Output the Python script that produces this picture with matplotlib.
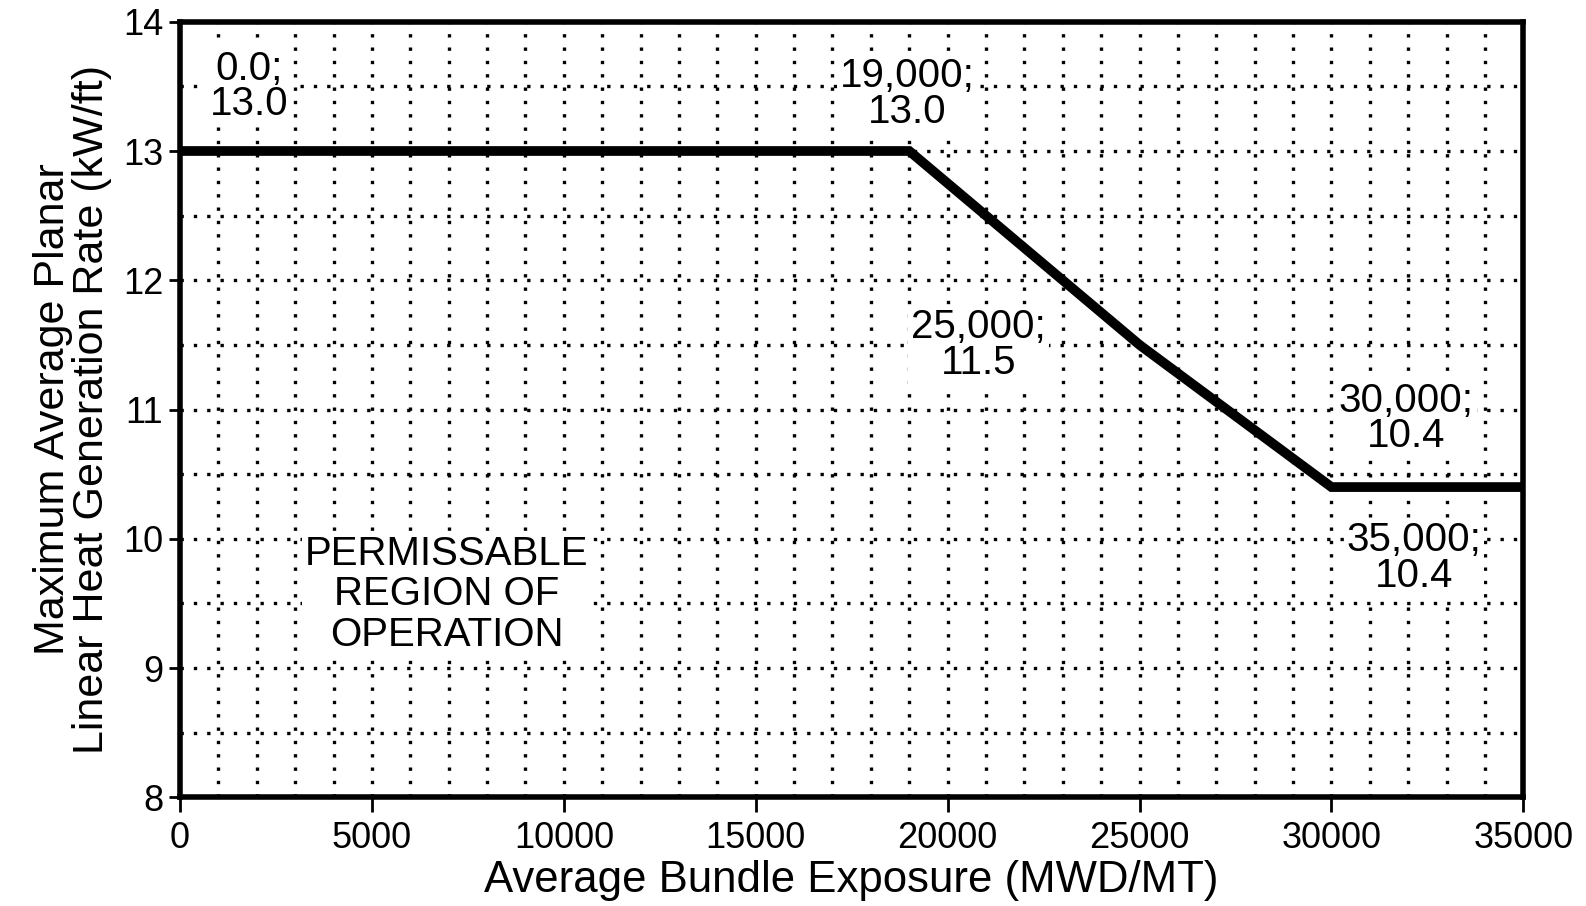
import matplotlib.pyplot as plt

plt.rcParams["font.family"] = ["Liberation Sans", "DejaVu Sans"]

# limit curve (exposure MWD/MT, kW/ft)
exposure = [0, 19000, 25000, 30000, 35000]
mapl = [13.0, 13.0, 11.5, 10.4, 10.4]

point_labels = ["0.0;\n13.0", "19,000;\n13.0", "25,000;\n11.5", "30,000;\n10.4", "35,000;\n10.4"]
label_x = [1800, 18950, 20800, 31950, 32150]
label_y = [13.5, 13.44, 11.5, 10.93, 9.85]

region_text = "PERMISSABLE\nREGION OF\nOPERATION"
region_xy = (6950, 9.57)

x_ticks = [0, 5000, 10000, 15000, 20000, 25000, 30000, 35000]
y_ticks = [8, 9, 10, 11, 12, 13, 14]


def main() -> None:
    fig = plt.figure(figsize=(15.86, 9.06), dpi=100)
    ax = fig.add_axes([0.1135, 0.12, 0.847, 0.856])

    ax.set_xlim(0, 35000)
    ax.set_ylim(8, 14)

    # dotted grid every 1000 x 0.5
    for gx in range(1000, 35000, 1000):
        ax.axvline(gx, color="black", lw=2.4, ls=(0, (1, 3)), zorder=1)
    for k in range(1, 12):
        ax.axhline(8 + 0.5 * k, color="black", lw=2.4, ls=(0, (1, 3)), zorder=1)

    ax.plot(exposure, mapl, color="black", lw=7, solid_joinstyle="miter", zorder=3)

    box = dict(facecolor="white", edgecolor="none", pad=2)
    for txt, tx, ty in zip(point_labels, label_x, label_y):
        ax.text(tx, ty, txt, ha="center", va="center", fontsize=29,
                linespacing=0.92, bbox=box, zorder=2)
    ax.text(region_xy[0], region_xy[1], region_text, ha="center", va="center",
            fontsize=29, linespacing=1.08, bbox=box, zorder=2)

    ax.set_xticks(x_ticks)
    ax.set_yticks(y_ticks)
    ax.tick_params(axis="both", labelsize=26, width=2, direction="out")
    ax.tick_params(axis="x", length=11, pad=6)
    ax.tick_params(axis="y", length=8, pad=4)
    for s in ax.spines.values():
        s.set_linewidth(4)

    ax.set_xlabel("Average Bundle Exposure (MWD/MT)", fontsize=31.5, labelpad=3)
    ax.set_ylabel("Maximum Average Planar\nLinear Heat Generation Rate (kW/ft)",
                  fontsize=31, linespacing=0.95, labelpad=8)

    fig.savefig("out.png", dpi=100)
    plt.close(fig)


if __name__ == "__main__":
    main()
